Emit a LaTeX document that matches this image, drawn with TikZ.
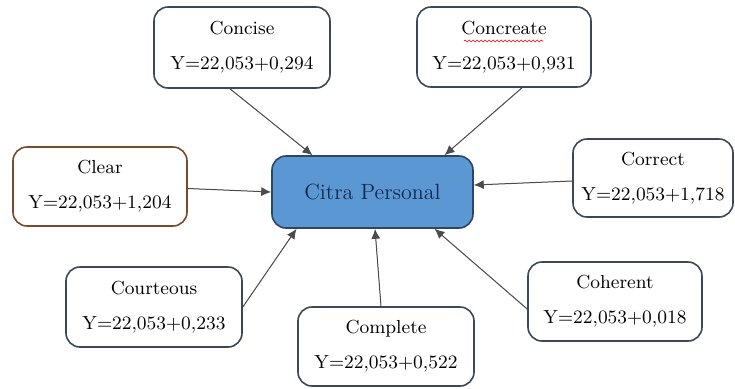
\documentclass[tikz,border=0pt]{standalone}
\usetikzlibrary{arrows,arrows.meta,decorations.pathmorphing}
\definecolor{bordgray}{RGB}{60,72,90}
\definecolor{bordbrown}{RGB}{122,74,44}
\definecolor{citrafill}{RGB}{91,152,211}
\definecolor{citraline}{RGB}{44,70,102}
\definecolor{citratext}{RGB}{18,40,74}
\tikzset{bx/.append style={draw=bordgray,line width=0.8pt,rounded corners=7pt,fill=white,
  align=center,text=black,font=\fontsize{9.45}{17.5}\selectfont}}
\tikzset{cp/.append style={draw=citraline,line width=0.8pt,rounded corners=7pt,fill=citrafill,
  text=citratext,font=\fontsize{11}{13}\selectfont,minimum width=100.5pt,minimum height=36pt}}
\tikzset{ar/.append style={-{Latex[length=5pt,width=4.5pt]},line width=0.5pt,draw=black!70,fill=black}}

\begin{document}
\begin{tikzpicture}[x=0.5pt,y=-0.5pt]
                \useasboundingbox (0,0) rectangle (735,388);
                % \SetUpBoxes
                \node[cp] (citra) at (372.5,192) {Citra Personal};
                \node[bx,minimum width=88pt,minimum height=40.5pt] (concise) at (242,47.5) {Concise\\Y=22,053+0,294};
                \node[bx,minimum width=87pt,minimum height=40pt] (concreate) at (504,47) {Concreate\\Y=22,053+0,931};
                \node[bx,draw=bordbrown,minimum width=87pt,minimum height=39.5pt] (clear) at (100,186.5) {Clear\\Y=22,053+1,204};
                \node[bx,minimum width=80pt,minimum height=39pt] (correct) at (653,178) {Correct\\Y=22,053+1,718};
                \node[bx,minimum width=88pt,minimum height=40pt] (courteous) at (154,307) {Courteous\\Y=22,053+0,233};
                \node[bx,minimum width=88pt,minimum height=39.5pt] (complete) at (386,346.5) {Complete\\Y=22,053+0,522};
                \node[bx,minimum width=87pt,minimum height=39.5pt] (coherent) at (615,301.5) {Coherent\\Y=22,053+0,018};
                \draw[red,line width=0.3pt,decorate,decoration={snake,amplitude=0.5pt,segment length=2pt}] (464,41) -- (543,41);
                \path ([xshift=-6pt]concise.south) edge[ar] ([xshift=-30pt]citra.north);
                \path ([xshift=9pt]concreate.south) edge[ar] ([xshift=36pt]citra.north);
                \path ([yshift=-1pt]clear.east) edge[ar] (citra.west);
                \path ([yshift=-1.5pt]correct.west) edge[ar] ([yshift=3.5pt]citra.east);
                \path (courteous.east) edge[ar] ([xshift=-38pt]citra.south);
                \path ([xshift=-2.5pt]complete.north) edge[ar] ([xshift=1.25pt]citra.south);
                \path ([yshift=-3.75pt]coherent.west) edge[ar] ([xshift=31pt]citra.south);
            \end{tikzpicture}
\end{document}
